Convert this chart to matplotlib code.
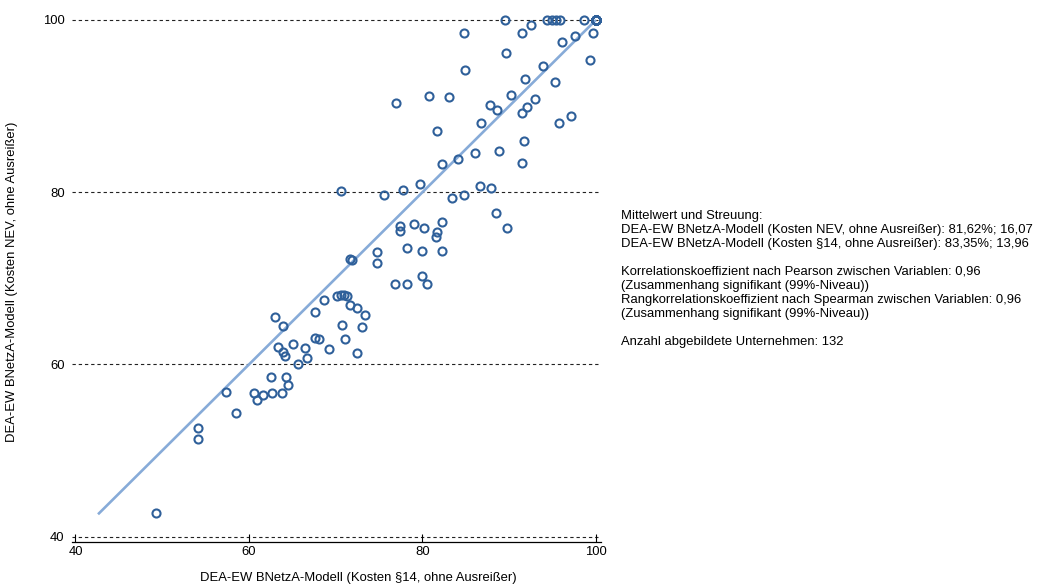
import matplotlib
matplotlib.use("Agg")
import matplotlib.pyplot as plt

plt.rcParams['font.family'] = ['Liberation Sans', 'DejaVu Sans']

# x: DEA-EW BNetzA-Modell (Kosten §14), y: DEA-EW BNetzA-Modell (Kosten NEV)
x_kosten14 = [
    89.5, 94.3, 94.9, 95.4, 95.9, 98.6, 100.0,
    100.0, 100.0, 100.0, 100.0, 100.0, 100.0, 100.0, 100.0, 100.0, 100.0,
    100.0, 100.0, 100.0, 100.0, 100.0, 100.0, 100.0, 100.0, 100.0, 100.0,
    100.0, 100.0, 100.0, 100.0, 100.0, 100.0, 100.0, 100.0,
    84.8, 91.5, 92.5, 99.7, 97.6, 96.1, 89.6, 99.3, 84.9, 93.9,
    91.8, 95.3, 76.9, 80.8, 83.1, 90.2, 87.8, 88.6, 93.0, 92.0,
    91.5, 97.1, 95.7, 86.7, 81.7, 91.7, 88.8, 86.1, 84.1, 82.2,
    91.5, 79.7, 77.7, 86.6, 87.9,
    75.6, 83.4, 84.8, 88.5, 89.7, 77.4, 77.4, 79.0, 80.2, 82.3,
    81.7, 81.6, 78.2, 79.9, 82.3, 79.9, 76.8, 78.2, 80.5,
    70.6, 74.8, 74.7, 71.6, 71.9, 70.1, 70.6, 71.0, 71.3, 68.6,
    67.6, 71.6, 72.4, 73.4, 63.0,
    63.9, 70.7, 73.0, 71.1, 72.4, 67.6, 68.1, 69.2, 65.1, 66.5,
    63.3, 63.9, 64.2, 66.7, 65.6, 62.5, 64.3, 64.5, 60.6, 60.9,
    61.6, 62.7, 63.8,
    57.4, 58.5, 54.1, 54.1, 49.3,
]
y_kostenNEV = [
    100.0, 100.0, 100.0, 100.0, 100.0, 100.0, 100.0,
    100.0, 100.0, 100.0, 100.0, 100.0, 100.0, 100.0, 100.0, 100.0, 100.0,
    100.0, 100.0, 100.0, 100.0, 100.0, 100.0, 100.0, 100.0, 100.0, 100.0,
    100.0, 100.0, 100.0, 100.0, 100.0, 100.0, 100.0, 100.0,
    98.5, 98.5, 99.4, 98.5, 98.1, 97.4, 96.2, 95.4, 94.2, 94.6,
    93.2, 92.8, 90.4, 91.2, 91.1, 91.3, 90.1, 89.5, 90.8, 89.9,
    89.2, 88.8, 88.0, 88.0, 87.1, 86.0, 84.8, 84.5, 83.9, 83.3,
    83.4, 81.0, 80.2, 80.7, 80.5,
    79.7, 79.3, 79.7, 77.6, 75.9, 76.1, 75.5, 76.3, 75.8, 76.5,
    75.4, 74.8, 73.5, 73.2, 73.2, 70.3, 69.3, 69.3, 69.3,
    80.1, 73.0, 71.8, 72.3, 72.1, 68.0, 68.1, 68.1, 68.0, 67.5,
    66.1, 66.9, 66.6, 65.7, 65.5,
    64.5, 64.6, 64.4, 62.9, 61.3, 63.1, 63.0, 61.8, 62.4, 61.9,
    62.0, 61.4, 61.0, 60.8, 60.0, 58.6, 58.6, 57.6, 56.7, 55.9,
    56.4, 56.7, 56.7,
    56.8, 54.4, 52.6, 51.4, 42.7,
]
diagonal = [42.6, 100.0]
x_ticks = [40, 60, 80, 100]
y_ticks = [40, 60, 80, 100]

x_label = "DEA-EW BNetzA-Modell (Kosten §14, ohne Ausreißer)"
y_label = "DEA-EW BNetzA-Modell (Kosten NEV, ohne Ausreißer)"
info_lines = [
    "Mittelwert und Streuung:",
    "DEA-EW BNetzA-Modell (Kosten NEV, ohne Ausreißer): 81,62%; 16,07",
    "DEA-EW BNetzA-Modell (Kosten §14, ohne Ausreißer): 83,35%; 13,96",
    "",
    "Korrelationskoeffizient nach Pearson zwischen Variablen: 0,96",
    "(Zusammenhang signifikant (99%-Niveau))",
    "Rangkorrelationskoeffizient nach Spearman zwischen Variablen: 0,96",
    "(Zusammenhang signifikant (99%-Niveau))",
    "",
    "Anzahl abgebildete Unternehmen: 132",
]

FS = 9.4
W, H = 1039, 587
fig = plt.figure(figsize=(W / 100, H / 100), dpi=100)
ax_l, ax_r, ax_t, ax_b = 71.5, 601.0, 0.0, 541.5
ax = fig.add_axes([ax_l / W, (H - ax_b) / H, (ax_r - ax_l) / W, (ax_b - ax_t) / H])
ax.set_xlim(39.54, 100.58)
ax.set_ylim(39.44, 102.32)

for yv in y_ticks:
    ax.axhline(yv, color='#222222', lw=0.8, dashes=(3.0, 2.6), zorder=1)

ax.plot(diagonal, diagonal, color='#87abd8', lw=1.9, zorder=2, solid_capstyle='butt')
ax.plot(x_kosten14, y_kostenNEV, linestyle='none', marker='o', markersize=5.8,
        markerfacecolor='none', markeredgecolor='#2f609a', markeredgewidth=1.5, zorder=3)

for s in ['top', 'right', 'left']:
    ax.spines[s].set_visible(False)
ax.spines['bottom'].set_linewidth(0.9)
ax.set_xticks(x_ticks)
ax.set_yticks(y_ticks)
ax.tick_params(axis='x', direction='in', length=6, width=0.8, pad=3.5, labelsize=FS)
ax.tick_params(axis='y', length=0, pad=5, labelsize=FS)

fig.text(358 / W, 1 - 578 / H, x_label, ha='center', va='center', fontsize=FS)
fig.text(12 / W, 1 - 282 / H, y_label, ha='center', va='center', rotation=90, fontsize=FS)

y0 = 216.0
for i, line in enumerate(info_lines):
    if line:
        fig.text(621 / W, 1 - (y0 + i * 14.0) / H, line, ha='left', va='center', fontsize=FS)

fig.savefig("out.png", dpi=100)
